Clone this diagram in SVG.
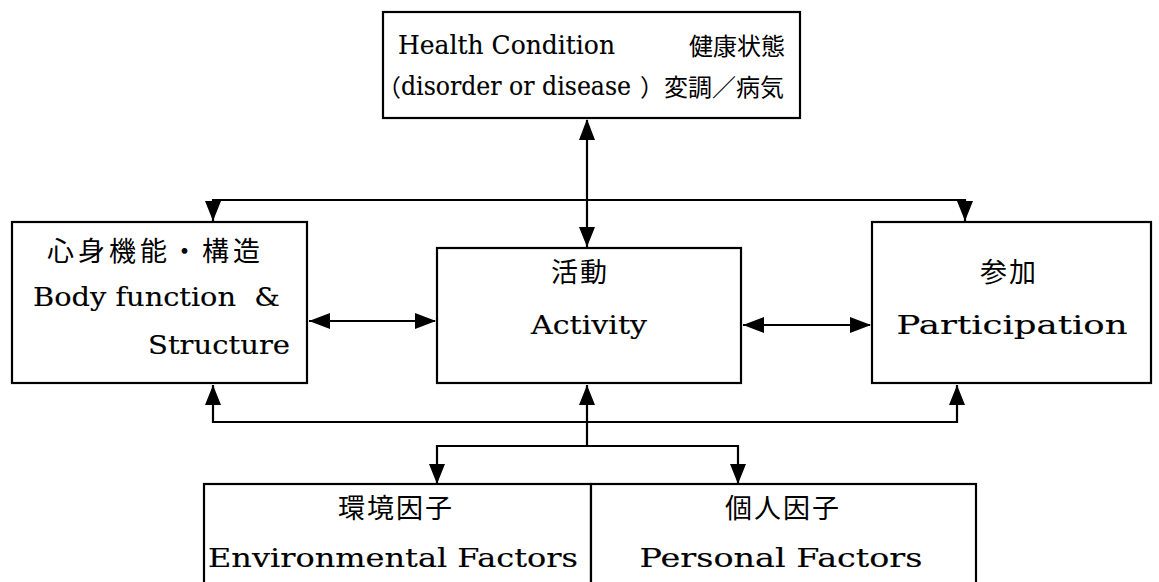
<svg xmlns="http://www.w3.org/2000/svg" width="1159" height="582" viewBox="0 0 1159 582">
<style>
.box{fill:#fff;stroke:#000;stroke-width:2.2}
.ln{fill:none;stroke:#000;stroke-width:2.2}
.ah{fill:#000}
.lat{font-family:"DejaVu Serif","Liberation Serif",serif;font-size:26px;fill:#000;stroke:#000;stroke-width:0.15}
.jp{font-family:"Noto Sans CJK JP",sans-serif;font-size:27px;fill:#000}
.jt{font-family:"Noto Sans CJK JP",sans-serif;font-size:24px;fill:#000;stroke:none}
</style>
<rect width="1159" height="582" fill="#fff"/>
<g id="connectors">
<path class="ln" d="M587,120 L587,247"/>
<polygon class="ah" points="587,119 579,140 595,140"/>
<polygon class="ah" points="587,247 579,227 595,227"/>
<path class="ln" d="M213,221 L213,200 L965,200 L965,221"/>
<polygon class="ah" points="213,221 205,201 221,201"/>
<polygon class="ah" points="965,221 957,201 973,201"/>
<path class="ln" d="M309,321 L435,321"/>
<polygon class="ah" points="309,321 330,313 330,329"/>
<polygon class="ah" points="436,321 415,313 415,329"/>
<path class="ln" d="M743,325 L870,325"/>
<polygon class="ah" points="743,325 764,317 764,333"/>
<polygon class="ah" points="871,325 850,317 850,333"/>
<path class="ln" d="M213,385 L213,422 L957,422 L957,385"/>
<polygon class="ah" points="213,385 205,405 221,405"/>
<polygon class="ah" points="957,385 949,405 965,405"/>
<path class="ln" d="M587,385 L587,446"/>
<polygon class="ah" points="587,385 579,405 595,405"/>
<path class="ln" d="M437,483 L437,446 L738,446 L738,483"/>
<polygon class="ah" points="437,484 429,464 445,464"/>
<polygon class="ah" points="738,484 730,464 746,464"/>
</g>
<g id="health">
<rect class="box" x="383" y="12" width="417" height="106"/>
<text class="lat" x="398" y="54" textLength="217" lengthAdjust="spacingAndGlyphs">Health Condition</text>
<text class="jt" x="689" y="55">健康状態</text>
<text class="jt" x="377" y="96">（</text>
<text class="lat" x="401" y="95" textLength="230" lengthAdjust="spacingAndGlyphs">disorder or disease</text>
<text class="jt" x="640" y="96">）変調／病気</text>
</g>
<g id="body">
<rect class="box" x="12" y="222" width="295" height="161"/>
<text class="jp" x="47" y="261" font-size="29" letter-spacing="4">心身機能・構造</text>
<text class="lat" x="33" y="306" textLength="247" lengthAdjust="spacingAndGlyphs" xml:space="preserve">Body function  &amp;</text>
<text class="lat" x="290" y="354" text-anchor="end" textLength="142" lengthAdjust="spacingAndGlyphs">Structure</text>
</g>
<g id="activity">
<rect class="box" x="437" y="248" width="304" height="135"/>
<text class="jp" x="551" y="282" letter-spacing="2">活動</text>
<text class="lat" x="589" y="334" text-anchor="middle" textLength="116" lengthAdjust="spacingAndGlyphs">Activity</text>
</g>
<g id="participation">
<rect class="box" x="872" y="222" width="279" height="161"/>
<text class="jp" x="980" y="282" letter-spacing="2">参加</text>
<text class="lat" x="1012" y="334" text-anchor="middle" textLength="231" lengthAdjust="spacingAndGlyphs">Participation</text>
</g>
<g id="environment">
<rect class="box" x="204" y="484" width="387" height="110"/>
<text class="jp" x="338" y="518" letter-spacing="2">環境因子</text>
<text class="lat" x="393" y="567" text-anchor="middle" textLength="370" lengthAdjust="spacingAndGlyphs">Environmental Factors</text>
</g>
<g id="personal">
<rect class="box" x="591" y="484" width="385" height="110"/>
<text class="jp" x="725" y="518" letter-spacing="2">個人因子</text>
<text class="lat" x="781" y="567" text-anchor="middle" textLength="283" lengthAdjust="spacingAndGlyphs">Personal Factors</text>
</g>
</svg>
